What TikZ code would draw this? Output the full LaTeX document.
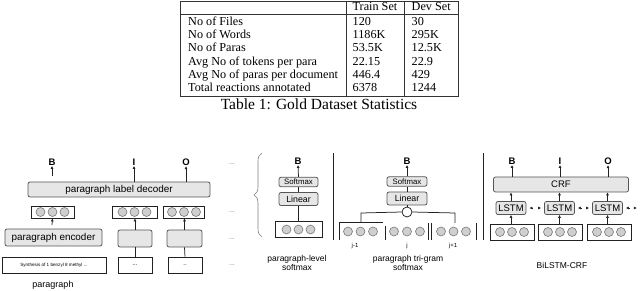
\documentclass[tikz,border=0pt]{standalone}
\usepackage{fontspec}
\setmainfont{Liberation Serif}
\setsansfont{Liberation Sans}
\usetikzlibrary{arrows.meta,decorations.pathreplacing}
\newcommand\myfs[1]{\fontsize{#1}{#1}\selectfont}
\definecolor{boxfill}{HTML}{E6E6E6}
\definecolor{boxline}{HTML}{555555}
\definecolor{dotfill}{HTML}{CFCFCF}
\definecolor{dotline}{HTML}{777777}
\definecolor{ink}{HTML}{222222}
\tikzset{
  tbltxt/.style={font=\myfs{12.2}, anchor=base west, inner sep=0pt},
  gbox/.style={draw=boxline, fill=boxfill, rounded corners=2pt, line width=0.75pt, inner sep=0pt, font=\sffamily\myfs{9.5}},
  wbox/.style={draw=ink, fill=white, line width=0.75pt, inner sep=0pt, font=\sffamily\myfs{8}},
  dot/.style={circle, draw=dotline, fill=dotfill, line width=0.6pt, minimum size=9pt, inner sep=0pt},
  lab/.style={font=\sffamily\bfseries\myfs{9.5}, inner sep=0.5pt},
  captxt/.style={font=\sffamily\myfs{8.5}, align=center, inner sep=0pt},
  small/.style={font=\sffamily\myfs{6}, inner sep=0pt},
  dotsl/.style={font=\sffamily\myfs{7}, text=gray, inner sep=0pt},
  arr/.style={-{Latex[length=3pt,width=3pt]}, line width=0.75pt, draw=ink},
  ln/.style={line width=0.75pt, draw=ink},
  tline/.style={line width=0.7pt, draw=black!80},
}
\begin{document}
\begin{tikzpicture}[x=1pt,y=-1pt]
\useasboundingbox (0,0) rectangle (640,291);
% ---------- table ----------
\draw[tline] (180,1) rectangle (458,96);
\draw[tline] (180,14) -- (458,14);
\draw[tline] (346,1) -- (346,96);
\draw[tline] (404.5,1) -- (404.5,96);
\node[tbltxt] (h1) at (352.5,11) {Train Set};
\node[tbltxt] (h2) at (411.5,11) {Dev Set};
\node[tbltxt] (r1) at (188,25.5) {No of Files};
\node[tbltxt] (r2) at (188,38.5) {No of Words};
\node[tbltxt] (r3) at (188,51.5) {No of Paras};
\node[tbltxt] (r4) at (188,65.5) {Avg No of tokens per para};
\node[tbltxt] (r5) at (188,78.5) {Avg No of paras per document};
\node[tbltxt] (r6) at (188,91.5) {Total reactions annotated};
\node[tbltxt] (a1) at (352.5,25.5) {120};
\node[tbltxt] (a2) at (352.5,38.5) {1186K};
\node[tbltxt] (a3) at (352.5,51.5) {53.5K};
\node[tbltxt] (a4) at (352.5,65.5) {22.15};
\node[tbltxt] (a5) at (352.5,78.5) {446.4};
\node[tbltxt] (a6) at (352.5,91.5) {6378};
\node[tbltxt] (b1) at (411.5,25.5) {30};
\node[tbltxt] (b2) at (411.5,38.5) {295K};
\node[tbltxt] (b3) at (411.5,51.5) {12.5K};
\node[tbltxt] (b4) at (411.5,65.5) {22.9};
\node[tbltxt] (b5) at (411.5,78.5) {429};
\node[tbltxt] (b6) at (411.5,91.5) {1244};
\node[font=\myfs{15.5}, anchor=base, inner sep=0pt] (caption) at (319,110) {Table 1: Gold Dataset Statistics};
% ---------- left panel ----------
\node[lab] (LB) at (52,162) {B};
\node[lab] (LI) at (134,162) {I};
\node[lab] (LO) at (186,162) {O};
\node[gbox, font=\sffamily\myfs{9.9}, minimum width=182pt, minimum height=15pt] (dec) at (119,189.5) {paragraph label decoder};
\coordinate (lbs) at (52,176);
\draw[arr] (lbs) -- (LB.south);
\draw[arr] (dec.north -| LI) -- (LI.south);
\draw[arr] (dec.north -| LO) -- (LO.south);
\node[wbox, minimum width=43pt, minimum height=12pt] (e1) at (52.5,212) {};
\node[wbox, minimum width=45pt, minimum height=12pt] (e2) at (134.5,212) {};
\node[wbox, minimum width=41pt, minimum height=12pt] (e3) at (184,212) {};
\foreach \b in {e1,e2,e3}{
  \foreach \dx [count=\k] in {-12,0,12}
    \node[dot] (\b c\k) at ([xshift=\dx pt]\b.center) {};
}
\coordinate (e1s) at (52,225);
\draw[arr] (e1s) -- (e1.south);
\node[gbox, font=\sffamily\myfs{9.9}, minimum width=97pt, minimum height=17pt] (enc) at (53.5,237.5) {paragraph encoder};
\node[gbox, minimum width=34pt, minimum height=17pt] (enc2) at (135,238.5) {};
\node[gbox, minimum width=35pt, minimum height=17pt] (enc3) at (184.5,238.5) {};
\draw[arr] (enc2.north) -- (e2.south -| enc2);
\draw[arr] (enc3.north) -- (e3.south -| enc3);
\node[wbox, font=\sffamily\myfs{4.6}, minimum width=104pt, minimum height=16pt] (in1) at (54,265) {Synthesis of 1 benzyl 8 methyl ...};
\node[wbox, font=\sffamily\myfs{6}, minimum width=34pt, minimum height=16pt] (in2) at (135,265) {...};
\node[wbox, font=\sffamily\myfs{6}, minimum width=34pt, minimum height=16pt] (in3) at (185,265) {..};
\draw[ln] (in2.north) -- (enc2.south);
\draw[ln] (in3.north) -- (enc3.south);
\node[captxt, font=\sffamily\myfs{9}] (ptxt) at (53,285) {paragraph};
\node[dotsl] (d1) at (232,164) {...};
\node[dotsl] (d2) at (232,212) {...};
\node[dotsl] (d3) at (232,239) {...};
\node[dotsl] (d4) at (232,265) {...};
% ---------- middle: paragraph-level softmax ----------
\draw[ln, draw=gray, line width=0.6pt, decorate, decoration={brace, amplitude=8pt}] (262,237) -- (262,153);
\draw[ln] (333,153) -- (333,240);
\node[lab] (MB) at (298,161) {B};
\node[gbox, font=\sffamily\myfs{7.8}, minimum width=39pt, minimum height=9.5pt] (sm2) at (298.5,182) {Softmax};
\node[gbox, font=\sffamily\myfs{8.8}, minimum width=39pt, minimum height=13pt] (lin2) at (298.5,199) {Linear};
\draw[arr] (sm2.north) -- (MB.south);
\draw[ln] (lin2.north) -- (sm2.south);
\node[wbox, minimum width=47pt, minimum height=16pt] (e4) at (298.5,229.5) {};
\foreach \dx [count=\k] in {-12,0,12}
  \node[dot] (e4c\k) at ([xshift=\dx pt]e4.center) {};
\draw[ln] (lin2.south) -- (e4.north);
\node[captxt] (plcap) at (297,263) {paragraph-level\\softmax};
% ---------- middle: tri-gram ----------
\node[lab] (TB) at (407,161) {B};
\node[gbox, font=\sffamily\myfs{7.8}, minimum width=40pt, minimum height=9.5pt] (sm3) at (407,181.5) {Softmax};
\node[gbox, font=\sffamily\myfs{8.8}, minimum width=40pt, minimum height=13pt] (lin3) at (407,198.5) {Linear};
\draw[arr] (sm3.north) -- (TB.south);
\draw[ln] (lin3.north) -- (sm3.south);
\node[circle, draw=ink, fill=white, line width=0.75pt, minimum size=10pt, inner sep=0pt] (cat) at (407,212) {};
\draw[ln] (lin3.south) -- (cat.north);
\coordinate (tl) at (361,213);
\coordinate (tr) at (455,213);
\coordinate (tld) at (361,222);
\coordinate (trd) at (455,223);
\draw[ln] (cat.west) -- (tl) -- (tld);
\draw[ln] (cat.east) -- (tr) -- (trd);
\draw[ln] (383,222) -- (339,222) -- (339,240);
\draw[ln] (385,226) -- (385,240);
\draw[ln] (428,223) -- (428,240);
\draw[ln] (431.5,223) -- (431.5,240);
\draw[ln] (476,223) -- (476,240);
\foreach \x [count=\k] in {348,360.5,373}
  \node[dot] (g1c\k) at (\x,231.5) {};
\foreach \x [count=\k] in {394,407,420}
  \node[dot] (g2c\k) at (\x,231.5) {};
\foreach \x [count=\k] in {441,453.5,466}
  \node[dot] (g3c\k) at (\x,231.5) {};
\node[small] (jm) at (355,246) {j-1};
\node[small] (j0) at (407,246) {j};
\node[small] (jp) at (453,246) {j+1};
\node[captxt] (tgcap) at (408,263) {paragraph tri-gram\\softmax};
% ---------- right: BiLSTM-CRF ----------
\draw[ln] (483,153) -- (483,240);
\node[lab] (RB) at (512,161) {B};
\node[lab] (RI) at (560,161) {I};
\node[lab] (RO) at (608,161) {O};
\node[gbox, minimum width=135pt, minimum height=15pt] (crf) at (561,184.5) {CRF};
\foreach \n/\x in {1/511,2/559.5,3/607.5}{
  \node[gbox, minimum width=30pt, minimum height=13pt] (ls\n) at (\x,208) {LSTM};
}
\foreach \n/\x in {1/512,2/560,3/609}{
  \node[wbox, minimum width=44pt, minimum height=16pt] (re\n) at (\x,232) {};
  \foreach \dx [count=\k] in {-12,0,12}
    \node[dot] (re\n c\k) at ([xshift=\dx pt]re\n.center) {};
}
\draw[arr] (crf.north -| RB) -- (RB.south);
\draw[arr] (crf.north -| RI) -- (RI.south);
\draw[arr] (crf.north -| RO) -- (RO.south);
\foreach \n in {1,2,3}{
  \draw[arr] (ls\n.north) -- (crf.south -| ls\n);
  \draw[arr] (re\n.north -| ls\n) -- (ls\n.south);
}
\coordinate (p1a) at ([xshift=3pt]ls1.east);
\coordinate (p1b) at ([xshift=6pt]ls1.east);
\coordinate (p1c) at ([xshift=-6pt]ls2.west);
\coordinate (p1d) at ([xshift=-3pt]ls2.west);
\coordinate (p2a) at ([xshift=3pt]ls2.east);
\coordinate (p2b) at ([xshift=6pt]ls2.east);
\coordinate (p2c) at ([xshift=-6pt]ls3.west);
\coordinate (p2d) at ([xshift=-3pt]ls3.west);
\coordinate (p3a) at ([xshift=3pt]ls3.east);
\coordinate (p3b) at ([xshift=6pt]ls3.east);
\coordinate (p3c) at ([xshift=11pt]ls3.east);
\coordinate (p3d) at ([xshift=14pt]ls3.east);
\foreach \p in {p1,p2,p3}{
  \draw[arr] (\p b) -- (\p a);
  \draw[arr] (\p c) -- (\p d);
}
\node[captxt] (bicap) at (562,265) {BiLSTM-CRF};
\end{tikzpicture}
\end{document}
